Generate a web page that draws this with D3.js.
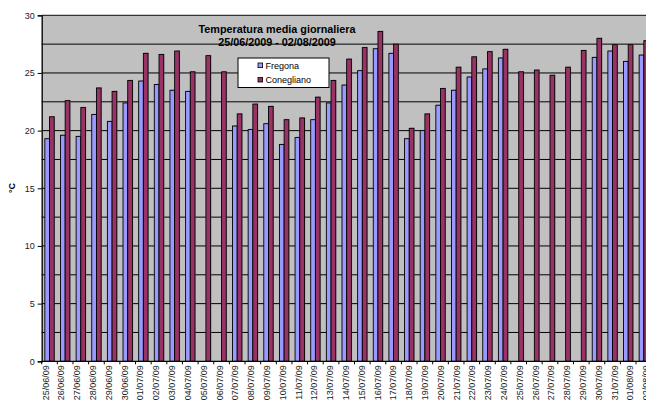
<!DOCTYPE html>
<html>
<head>
<meta charset="utf-8">
<script src="https://cdn.jsdelivr.net/npm/d3@7"></script>
<style>
  html, body { margin: 0; padding: 0; background: #fff; overflow: hidden; }
  text { font-family: "Liberation Sans", Arial, sans-serif; }
</style>
</head>
<body>
<svg id="chart" width="646" height="401"></svg>
<script>
// Daily mean temperature, two stations
const categories = [
  "25/06/09","26/06/09","27/06/09","28/06/09","29/06/09","30/06/09",
  "01/07/09","02/07/09","03/07/09","04/07/09","05/07/09","06/07/09",
  "07/07/09","08/07/09","09/07/09","10/07/09","11/07/09","12/07/09",
  "13/07/09","14/07/09","15/07/09","16/07/09","17/07/09","18/07/09",
  "19/07/09","20/07/09","21/07/09","22/07/09","23/07/09","24/07/09",
  "25/07/09","26/07/09","27/07/09","28/07/09","29/07/09","30/07/09",
  "31/07/09","01/08/09","02/08/09"
];
const seriesNames = ["Fregona", "Conegliano"];
const fregona = [
  19.3, 19.6, 19.5, 21.4, 20.8, 22.4, 24.3, 24.0, 23.5, 23.4, null, null,
  20.4, 20.1, 20.6, 18.8, 19.4, 20.95, 22.4, 23.95, 25.2, 27.1, 26.7, 19.3,
  20.0, 22.2, 23.5, 24.65, 25.35, 26.3, null, null, null, null, null, 26.35,
  26.9, 26.0, 26.55
];
const conegliano = [
  21.2, 22.6, 22.0, 23.7, 23.4, 24.35, 26.7, 26.6, 26.9, 25.1, 26.5, 25.1,
  21.45, 22.3, 22.1, 20.95, 21.1, 22.9, 24.35, 26.2, 27.2, 28.6, 27.5, 20.2,
  21.45, 23.65, 25.5, 26.4, 26.85, 27.05, 25.1, 25.25, 24.8, 25.5, 26.95, 28.0,
  27.45, 27.45, 27.8
];
const yMajorTicks = [0, 5, 10, 15, 20, 25, 30];
const yGridValues = [2.5, 5, 7.5, 10, 12.5, 15, 17.5, 20, 22.5, 25, 27.5];
const titleLines = ["Temperatura media giornaliera", "25/06/2009 - 02/08/2009"];
const yTitle = "°C";

const colors = { Fregona: "#9999FF", Conegliano: "#993366" };
const values = { Fregona: fregona, Conegliano: conegliano };

const svg = d3.select("#chart");

const plotLeft = 41.7, plotTop = 15.3, plotBottom = 361.3;
const step = 15.64;
const plotRight = plotLeft + categories.length * step;

const x0 = d3.scaleBand()
  .domain(categories)
  .range([plotLeft, plotRight])
  .paddingInner(0.4)
  .paddingOuter(0.2);
const x1 = d3.scaleBand()
  .domain(seriesNames)
  .range([0, x0.bandwidth()]);
const y = d3.scaleLinear().domain([0, 30]).range([plotBottom, plotTop]);

// tick labels sit on a slightly wider pitch than the bars
const labelX = d3.scaleLinear()
  .domain([0, categories.length - 1])
  .range([x0(categories[0]) + x0.bandwidth() / 2 - 4,
          x0(categories[categories.length - 1]) + x0.bandwidth() / 2 + 2.2]);

// plot area
svg.append("rect")
  .attr("x", plotLeft).attr("y", plotTop)
  .attr("width", plotRight - plotLeft).attr("height", plotBottom - plotTop)
  .attr("fill", "#C0C0C0");

// horizontal gridlines
svg.append("g").selectAll("line")
  .data(yGridValues)
  .join("line")
  .attr("x1", plotLeft).attr("x2", plotRight)
  .attr("y1", d => y(d)).attr("y2", d => y(d))
  .attr("stroke", "#000").attr("stroke-width", 1);

// top border of plot area
svg.append("line")
  .attr("x1", plotLeft).attr("x2", plotRight)
  .attr("y1", plotTop).attr("y2", plotTop)
  .attr("stroke", "#333").attr("stroke-width", 1.2);

// bars
const rows = categories.map((c, i) => ({
  cat: c,
  vals: seriesNames.map(s => ({ s, v: values[s][i] }))
}));
const groups = svg.append("g").selectAll("g")
  .data(rows)
  .join("g")
  .attr("transform", d => `translate(${x0(d.cat)},0)`);

groups.selectAll("rect.shadow")
  .data(d => d.vals.filter(e => e.v != null))
  .join("rect")
  .attr("class", "shadow")
  .attr("x", d => x1(d.s) + 0.8)
  .attr("y", d => y(d.v) - 0.8)
  .attr("width", x1.bandwidth())
  .attr("height", d => y(0) - y(d.v))
  .attr("fill", "#7a7a7a")
  .attr("opacity", 0.6);

groups.selectAll("rect.bar")
  .data(d => d.vals.filter(e => e.v != null))
  .join("rect")
  .attr("class", "bar")
  .attr("x", d => x1(d.s))
  .attr("y", d => y(d.v))
  .attr("width", x1.bandwidth())
  .attr("height", d => y(0) - y(d.v))
  .attr("fill", d => colors[d.s])
  .attr("stroke", "#000")
  .attr("stroke-width", 0.9);

// y axis
const yAxis = d3.axisLeft(y)
  .tickValues(yMajorTicks)
  .tickSize(4)
  .tickPadding(3)
  .tickFormat(d3.format("d"));
const gy = svg.append("g")
  .attr("transform", `translate(${plotLeft},0)`)
  .call(yAxis);
gy.select(".domain").attr("stroke", "#000").attr("stroke-width", 1.3);
gy.selectAll(".tick line").attr("stroke", "#000");
gy.selectAll(".tick text")
  .attr("font-size", 9)
  .attr("fill", "#222")
  .style("font-family", "'Liberation Sans', Arial, sans-serif");

// x axis line
svg.append("line")
  .attr("x1", plotLeft).attr("x2", plotRight)
  .attr("y1", plotBottom).attr("y2", plotBottom)
  .attr("stroke", "#000").attr("stroke-width", 1.3);

// x tick marks at category boundaries
svg.append("g").selectAll("line")
  .data(d3.range(categories.length + 1))
  .join("line")
  .attr("x1", i => plotLeft + i * x0.step())
  .attr("x2", i => plotLeft + i * x0.step())
  .attr("y1", plotBottom).attr("y2", plotBottom + 3)
  .attr("stroke", "#000");

// x tick labels, rotated
svg.append("g").selectAll("text")
  .data(categories)
  .join("text")
  .attr("transform", (d, i) => `translate(${labelX(i)},${plotBottom + 4}) rotate(-90)`)
  .attr("text-anchor", "end")
  .attr("dy", "0.35em")
  .attr("font-size", 9)
  .attr("fill", "#222")
  .text(d => d);

// y axis title
svg.append("text")
  .attr("transform", `translate(15,188) rotate(-90)`)
  .attr("text-anchor", "middle")
  .attr("font-size", 9)
  .attr("font-weight", "bold")
  .attr("fill", "#000")
  .text(yTitle);

// chart title
svg.append("g").selectAll("text")
  .data(titleLines)
  .join("text")
  .attr("x", 277)
  .attr("y", (d, i) => 32.5 + i * 13.8)
  .attr("text-anchor", "middle")
  .attr("font-size", 10.8)
  .attr("font-weight", "bold")
  .attr("fill", "#000")
  .text(d => d);

// legend
const legend = svg.append("g").attr("transform", "translate(238,58)");
legend.append("rect")
  .attr("width", 91).attr("height", 29.5)
  .attr("fill", "#fff").attr("stroke", "#000").attr("stroke-width", 1);
const li = legend.selectAll("g")
  .data(seriesNames)
  .join("g")
  .attr("transform", (d, i) => `translate(20,${5 + i * 14.4})`);
li.append("rect")
  .attr("width", 4.6).attr("height", 4.6)
  .attr("fill", d => colors[d])
  .attr("stroke", "#000").attr("stroke-width", 0.8);
li.append("text")
  .attr("x", 7.5).attr("y", 6)
  .attr("font-size", 9)
  .attr("fill", "#000")
  .text(d => d);
</script>
</body>
</html>
